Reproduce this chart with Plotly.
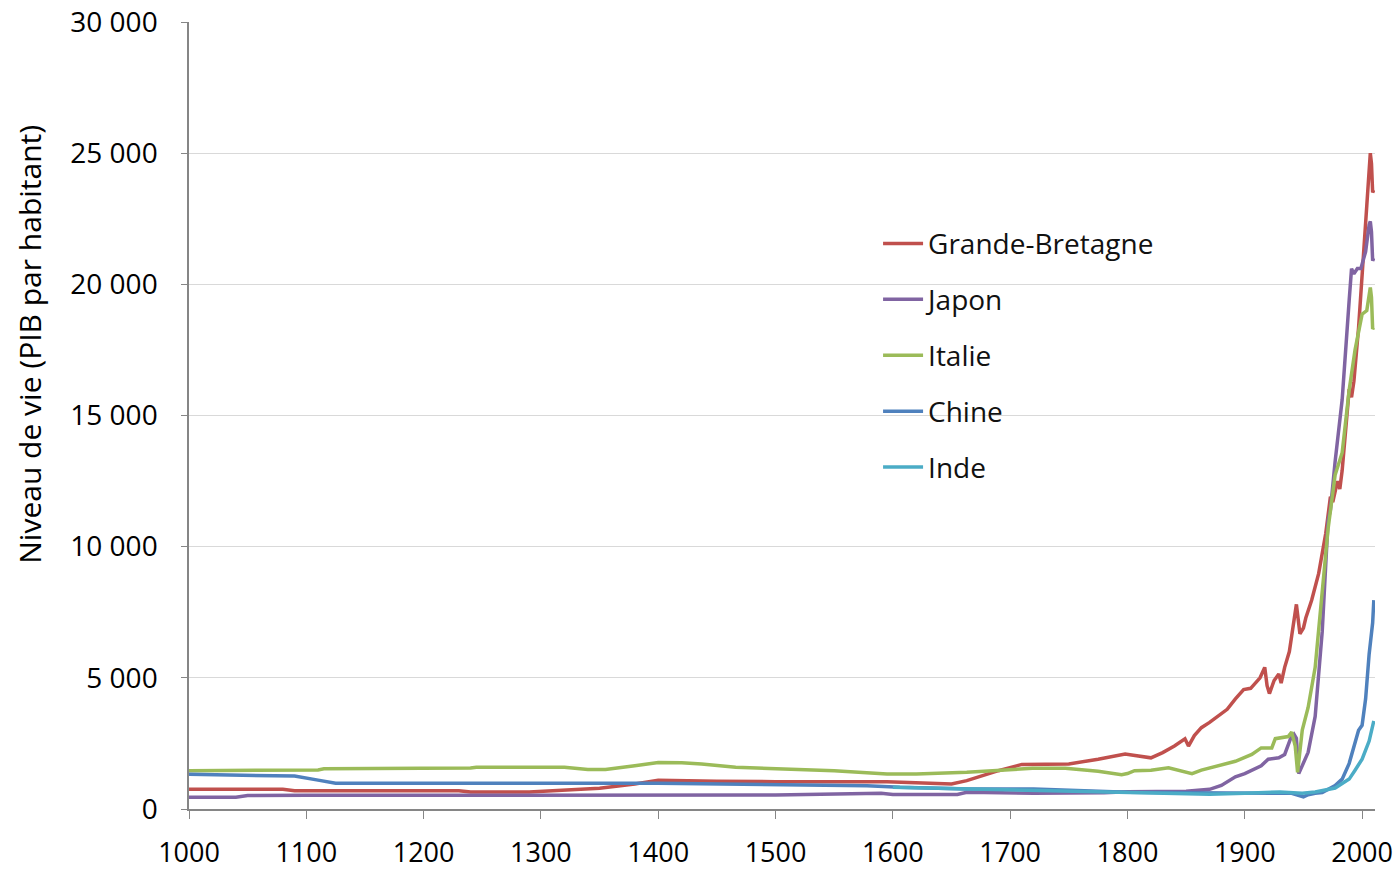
import plotly.graph_objects as go

# ---- data ----
gb_years = [1000, 1080, 1090, 1230, 1240, 1290, 1310, 1350, 1380, 1400, 1450, 1500, 1595, 1620, 1650, 1663, 1690, 1710, 1750, 1775, 1798, 1805, 1815, 1820, 1830, 1840, 1849, 1852, 1857, 1863, 1870, 1877, 1885, 1892, 1899, 1905, 1909, 1913, 1917, 1919, 1921, 1925, 1929, 1931, 1934, 1938, 1940, 1943, 1944, 1947, 1950, 1952, 1957, 1963, 1969, 1973, 1975, 1979, 1981, 1983, 1986, 1989, 1991, 1993, 1997, 2001, 2004, 2007, 2008, 2009, 2010]
gb_values = [750, 750, 700, 700, 650, 650, 700, 790, 950, 1100, 1060, 1040, 1040, 990, 950, 1080, 1460, 1700, 1715, 1900, 2100, 2050, 2000, 1950, 2150, 2400, 2675, 2400, 2800, 3100, 3300, 3530, 3800, 4200, 4550, 4600, 4800, 5000, 5400, 4700, 4400, 4900, 5150, 4800, 5400, 6000, 6600, 7700, 7800, 6680, 6900, 7280, 7960, 8980, 10500, 11900, 11700, 12500, 12200, 12900, 14500, 16000, 15700, 16300, 18350, 21250, 23000, 25000, 24600, 23500, 23600]

jp_years = [1000, 1040, 1050, 1100, 1500, 1590, 1600, 1655, 1663, 1720, 1780, 1800, 1850, 1863, 1870, 1880, 1892, 1900, 1906, 1914, 1920, 1929, 1934, 1939, 1942, 1944, 1946, 1949, 1954, 1960, 1966, 1971, 1973, 1977, 1983, 1989, 1991, 1993, 1996, 1999, 2003, 2006, 2007, 2008, 2009, 2010]
jp_values = [450, 450, 510, 520, 530, 600, 550, 550, 635, 600, 620, 660, 680, 715, 750, 900, 1230, 1350, 1480, 1650, 1900, 1950, 2080, 2680, 2850, 2700, 1350, 1650, 2160, 3530, 6760, 11000, 11400, 13240, 15600, 19400, 20600, 20400, 20600, 20600, 21250, 22270, 22400, 22000, 20900, 21000]

it_years = [1000, 1045, 1050, 1110, 1115, 1175, 1180, 1240, 1245, 1320, 1340, 1355, 1380, 1400, 1420, 1437, 1466, 1500, 1550, 1595, 1620, 1663, 1691, 1719, 1747, 1775, 1795, 1800, 1806, 1820, 1835, 1855, 1863, 1877, 1892, 1906, 1914, 1923, 1926, 1937, 1940, 1943, 1945, 1949, 1954, 1960, 1966, 1971, 1977, 1983, 1989, 1994, 2000, 2004, 2007, 2008, 2009, 2010]
it_values = [1460, 1460, 1490, 1490, 1530, 1530, 1560, 1560, 1590, 1590, 1510, 1510, 1650, 1770, 1760, 1715, 1590, 1550, 1460, 1330, 1330, 1400, 1490, 1550, 1550, 1435, 1310, 1350, 1460, 1480, 1570, 1350, 1480, 1650, 1820, 2080, 2330, 2330, 2680, 2760, 2930, 2400, 1400, 3010, 3870, 5400, 8470, 10680, 12730, 13580, 15970, 17500, 18860, 19000, 19880, 19500, 18300, 18350]

cn_years = [1000, 1060, 1090, 1110, 1125, 1400, 1500, 1578, 1606, 1663, 1720, 1775, 1800, 1850, 1900, 1940, 1950, 1954, 1960, 1966, 1977, 1983, 1989, 1994, 1997, 2000, 2003, 2006, 2009, 2010]
cn_values = [1320, 1300, 1257, 1100, 980, 980, 930, 890, 825, 760, 760, 670, 640, 620, 620, 600, 460, 545, 600, 630, 890, 1140, 1740, 2500, 3000, 3190, 4200, 5900, 7100, 7960]

in_years = [1600, 1663, 1720, 1775, 1815, 1870, 1900, 1930, 1949, 1960, 1977, 1989, 1994, 2000, 2006, 2010]
in_values = [825, 760, 700, 635, 600, 560, 600, 650, 600, 650, 800, 1140, 1480, 1900, 2590, 3360]

series_names = ["Grande-Bretagne", "Japon", "Italie", "Chine", "Inde"]
series_colors = ["#C0504D", "#8064A2", "#9BBB59", "#4F81BD", "#4BACC6"]
series_x = [gb_years, jp_years, it_years, cn_years, in_years]
series_y = [gb_values, jp_values, it_values, cn_values, in_values]

x_ticks = list(range(1000, 2001, 100))
y_ticks = [0, 5000, 10000, 15000, 20000, 25000, 30000]
y_title = "Niveau de vie (PIB par habitant)"

FONT = "Open Sans"

fig = go.Figure()
for name, col, xs, ys in zip(series_names, series_colors, series_x, series_y):
    fig.add_trace(go.Scatter(x=xs, y=ys, mode="lines", name=name, legendgroup=name,
                             line=dict(color=col, width=3.5)))

fig.update_layout(
    width=1400, height=872,
    margin=dict(l=189, r=25, t=22, b=63, autoexpand=False),
    paper_bgcolor="white", plot_bgcolor="white",
    separators=", ",
    font=dict(family=FONT, size=28, color="#000000"),
    showlegend=True,
    legend=dict(x=0.581, y=0.75, xanchor="left", yanchor="top",
                font=dict(family=FONT, size=28, color="#111111"),
                itemwidth=40,
                bgcolor="rgba(0,0,0,0)", traceorder="grouped", tracegroupgap=16.5),
    xaxis=dict(range=[1000, 2011], tickvals=x_ticks, showgrid=False, zeroline=False,
               showline=True, linecolor="#868686", linewidth=1.5, automargin=False,
               ticks="outside", ticklen=8, tickcolor="#868686",
               tickfont=dict(family=FONT, size=27), ticklabelstandoff=11),
    yaxis=dict(range=[0, 30000], tickvals=y_ticks, tickformat=",d",
               showgrid=True, gridcolor="#D9D9D9", gridwidth=1, zeroline=False,
               showline=True, linecolor="#868686", linewidth=1.5, automargin=False,
               ticks="outside", ticklen=6, tickcolor="#868686",
               tickfont=dict(family=FONT, size=28), ticklabelstandoff=18),
    annotations=[dict(text=y_title, textangle=-90, xref="paper", yref="paper",
                      x=-0.134, y=0.59, xanchor="center", yanchor="middle",
                      showarrow=False, font=dict(family=FONT, size=30, color="#000000"))],
)

fig.write_html("out.html", config={"displayModeBar": False},
               post_script="document.body.style.margin='0';document.body.style.overflow='hidden';")
